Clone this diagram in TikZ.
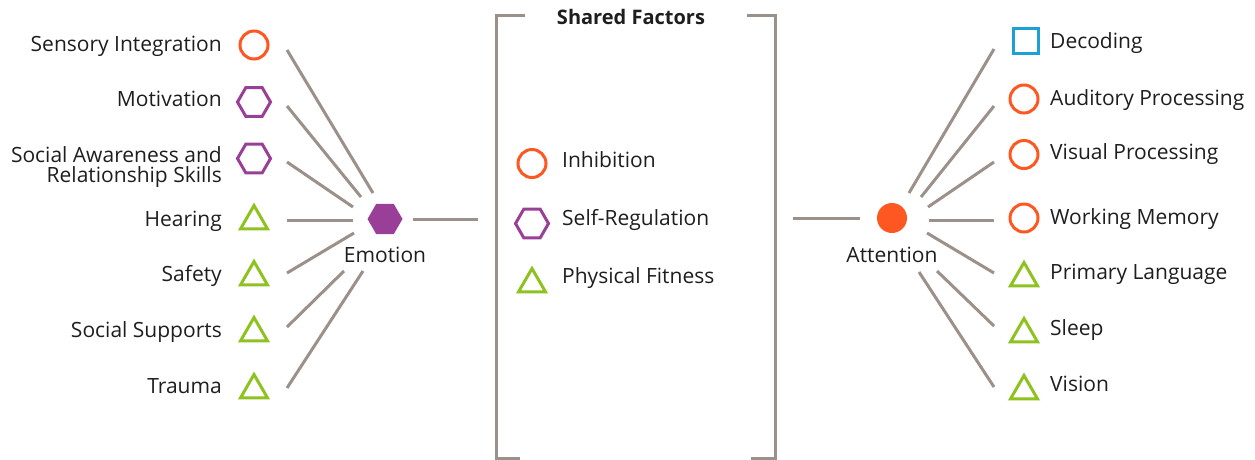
\documentclass[tikz,border=0pt]{standalone}
\usepackage{fontspec}
\setmainfont{Open Sans}
\usetikzlibrary{shapes.geometric}
\definecolor{corange}{HTML}{FF5722}
\definecolor{cpurple}{HTML}{9A3F98}
\definecolor{cgreen}{HTML}{8DC21F}
\definecolor{cblue}{HTML}{1BA1D6}
\definecolor{cgray}{HTML}{9B918A}
\definecolor{ctext}{HTML}{1E1E1E}
\begin{document}
\begin{tikzpicture}[x=1pt,y=-1pt,
  lbl/.style={font=\fontsize{21}{25}\selectfont, inner sep=0pt, text=ctext},
  lbll/.style={lbl, anchor=base east},
  lblr/.style={lbl, anchor=base west},
  ring/.style={circle, draw=corange, line width=3pt, inner sep=0pt, minimum size=28pt},
  hexo/.style={regular polygon, regular polygon sides=6, draw=cpurple, line width=3pt, inner sep=0pt, minimum size=33pt},
  tri/.style={regular polygon, regular polygon sides=3, draw=cgreen, line width=3pt, inner sep=0pt, minimum size=31pt},
  sq/.style={rectangle, draw=cblue, line width=3pt, inner sep=0pt, minimum size=25pt},
  link/.style={draw=cgray, line width=3pt},
  brack/.style={draw=cgray, line width=3pt}]
\useasboundingbox (0,0) rectangle (1255,459);

% ---------- left column ----------
\node[lbll] (tSI) at (222,51) {Sensory Integration};
\node[ring] (iSI) at (254,45) {};
\node[lbll] (tMo) at (222,106) {Motivation};
\node[hexo] (iMo) at (254,102) {};
\node[lbll] (tSA1) at (222,162) {Social Awareness and};
\node[lbll] (tSA2) at (222,182) {Relationship Skills};
\node[hexo] (iSA) at (254,158.5) {};
\node[lbll] (tHe) at (222,226) {Hearing};
\node[tri] (iHe) at (254,221) {};
\node[lbll] (tSf) at (222,281) {Safety};
\node[tri] (iSf) at (254,277) {};
\node[lbll] (tSS) at (222,337) {Social Supports};
\node[tri] (iSS) at (254,333) {};
\node[lbll] (tTr) at (222,393) {Trauma};
\node[tri] (iTr) at (254,390) {};

% ---------- Emotion ----------
\node[regular polygon, regular polygon sides=6, fill=cpurple, inner sep=0pt, minimum size=35pt] (emo) at (385,219) {};
\node[lbl, anchor=base] (emoT) at (385,262) {Emotion};

\coordinate (ls1) at (287,50);  \coordinate (le1) at (373,193);
\coordinate (ls2) at (287,106); \coordinate (le2) at (361,197);
\coordinate (ls3) at (287,162); \coordinate (le3) at (353,207);
\coordinate (ls4) at (287,220); \coordinate (le4) at (353,220);
\coordinate (ls5) at (287,273); \coordinate (le5) at (354,233);
\coordinate (ls6) at (287,327); \coordinate (le6) at (344,271);
\coordinate (ls7) at (287,388); \coordinate (le7) at (363,271);
\foreach \i in {1,...,7} {\draw[link] (ls\i) -- (le\i);}
\coordinate (emR) at (413,219); \coordinate (brL) at (478,219);
\draw[link] (emR) -- (brL);

% ---------- shared factors bracket ----------
\coordinate (b1) at (525,15); \coordinate (b2) at (496,15);
\coordinate (b3) at (496,458); \coordinate (b4) at (520,458);
\coordinate (b5) at (747,15); \coordinate (b6) at (775,15);
\coordinate (b7) at (775,458); \coordinate (b8) at (751,458);
\draw[brack] (b1) -- (b2) -- (b3) -- (b4);
\draw[brack] (b5) -- (b6) -- (b7) -- (b8);
\node[lbl, font=\fontsize{20}{24}\selectfont\bfseries, anchor=base] (shT) at (631,24) {Shared Factors};

\node[ring] (iIn) at (532,163.5) {};
\node[lblr] (tIn) at (562,167) {Inhibition};
\node[hexo] (iSR) at (532,223.5) {};
\node[lblr] (tSR) at (562,225.5) {Self-Regulation};
\node[tri] (iPF) at (532,284) {};
\node[lblr] (tPF) at (562,283) {Physical Fitness};

% ---------- Attention ----------
\coordinate (brR) at (793,218); \coordinate (atL) at (860,218);
\draw[link] (brR) -- (atL);
\node[circle, fill=corange, inner sep=0pt, minimum size=30pt] (att) at (892,218) {};
\node[lbl, anchor=base] (attT) at (892,262) {Attention};

% ---------- right column ----------
\node[sq] (iDe) at (1026,41) {};
\node[lblr] (tDe) at (1050,48) {Decoding};
\node[ring] (iAP) at (1024,99) {};
\node[lblr] (tAP) at (1050,105) {Auditory Processing};
\node[ring] (iVP) at (1024,154.5) {};
\node[lblr] (tVP) at (1050,159.5) {Visual Processing};
\node[ring] (iWM) at (1024,218) {};
\node[lblr] (tWM) at (1050,224) {Working Memory};
\node[tri] (iPL) at (1024,278) {};
\node[lblr] (tPL) at (1050,279.5) {Primary Language};
\node[tri] (iSl) at (1024,334) {};
\node[lblr] (tSl) at (1050,335) {Sleep};
\node[tri] (iVi) at (1024,391) {};
\node[lblr] (tVi) at (1050,391) {Vision};

\coordinate (rs1) at (909,193); \coordinate (re1) at (994,49);
\coordinate (rs2) at (921,197); \coordinate (re2) at (994,106);
\coordinate (rs3) at (928,207); \coordinate (re3) at (994,162);
\coordinate (rs4) at (929,220); \coordinate (re4) at (994,220);
\coordinate (rs5) at (927,233); \coordinate (re5) at (994,273);
\coordinate (rs6) at (937,271); \coordinate (re6) at (994,326);
\coordinate (rs7) at (919,272); \coordinate (re7) at (994,387);
\foreach \i in {1,...,7} {\draw[link] (rs\i) -- (re\i);}
\end{tikzpicture}
\end{document}
